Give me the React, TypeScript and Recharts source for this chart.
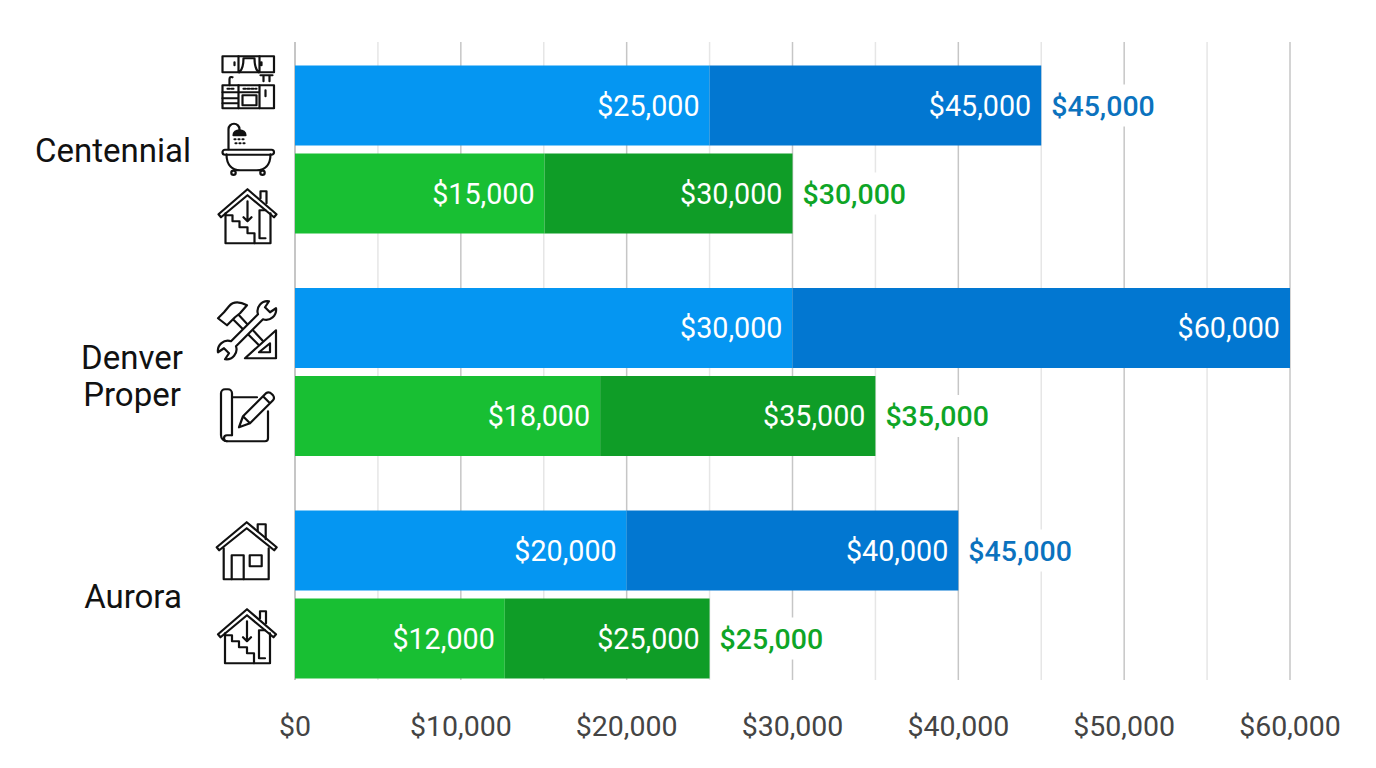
import React from "react";
import { BarChart, Bar, XAxis, YAxis, CartesianGrid, LabelList } from "recharts";

const categories = ["Centennial", "Denver Proper", "Aurora"];
const blueBase = [25000, 30000, 20000];
const blueBaseLabels = [25000, 30000, 20000];
const blueTotal = [45000, 60000, 40000];
const blueTotalLabels = [45000, 60000, 40000];
const blueOutside = [45000, null, 45000];
const greenBase = [15050, 18400, 12650];
const greenBaseLabels = [15000, 18000, 12000];
const greenTotal = [30000, 35000, 25000];
const greenTotalLabels = [30000, 35000, 25000];
const greenOutside = [30000, 35000, 25000];
const axisTicks = [0, 10000, 20000, 30000, 40000, 50000, 60000];
const gridTicks = [0, 5000, 10000, 15000, 20000, 25000, 30000, 35000, 40000, 45000, 50000, 55000, 60000];

const data = categories.map((name, i) => ({
  name,
  blueBase: blueBase[i],
  blueRest: blueTotal[i] - blueBase[i],
  blueBaseLabel: blueBaseLabels[i],
  blueTotalLabel: blueTotalLabels[i],
  blueOutside: blueOutside[i],
  greenBase: greenBase[i],
  greenRest: greenTotal[i] - greenBase[i],
  greenBaseLabel: greenBaseLabels[i],
  greenTotalLabel: greenTotalLabels[i],
  greenOutside: greenOutside[i],
}));

const money = (v: number) => "$" + Number(v).toLocaleString("en-US");

const iconStroke = { fill: "none", stroke: "#111", strokeWidth: 2.2, strokeLinejoin: "round" as const, strokeLinecap: "round" as const };

const KitchenIcon = () => (
  <g {...iconStroke}>
    <rect x={-26} y={-26} width={51.5} height={16} />
    <path d="M-10,-26V-10M11,-26V-10M-9,-10Q-5,-14 -5,-24H6Q6,-14 10,-10M-14,-20V-17M13,-20V-17" />
    <rect x={-26} y={3} width={51.5} height={23} />
    <path d="M-10,3V26M11,3V26M-26,10H11M-26,16H-10M-26,21H-10M17,8V14" />
    <rect x={-6} y={13} width={14} height={10} />
    <path d="M-19,3V-3Q-19,-6 -16,-5M12,-7H24M15,-7V-1M21,-7V-1" />
    <path d="M-21,6.5H-15M-5,6.5H8" strokeDasharray="2 2" />
  </g>
);

const BathIcon = () => (
  <g {...iconStroke}>
    <rect x={-26} y={0.5} width={51.5} height={5} rx={2.5} />
    <path d="M-22,5C-22,16 -16,21 -8,21H8C16,21 22,16 22,5" />
    <circle cx={-15} cy={23.5} r={2.2} />
    <circle cx={14} cy={23.5} r={2.2} />
    <path d="M-20,0V-20A5.5,5.5 0 0 1 -9,-20V-18" />
    <path d="M-15,-14A6,5 0 0 1 -3,-14Z" fill="#111" />
    <path d="M-14,-10H-3M-13,-6H-4" strokeDasharray="1 3" />
  </g>
);

const BasementIcon = () => (
  <g {...iconStroke}>
    <path d="M-29,-2L0,-27L29,-2L26.5,1L0,-21L-26.5,1Z" />
    <path d="M13,-18V-25H19V-13" />
    <path d="M-22,-3V27H23V-3" />
    <path d="M-22,-1H-15V5H-8V11H0V17H7V27" />
    <path d="M0,-15V5M-4,1L0,5L4,1M18,-6H12V22H18" />
  </g>
);

const HouseIcon = () => (
  <g {...iconStroke}>
    <path d="M-30,-3L0,-28L30,-3L27.5,0L0,-22L-27.5,0Z" />
    <path d="M11,-19V-26H19V-11" />
    <path d="M-23,-2V29H22V-2" />
    <path d="M-15,29V5H-3V29" />
    <rect x={3} y={5} width={12} height={11} />
  </g>
);

const ToolsIcon = () => (
  <g {...iconStroke}>
    <path d="M-13,-10L15,18L19,14L-8,-15" />
    <path d="M-29,-12L-20,-5L-12,-13L-7,-17L0,-25Q-12,-31 -18,-24L-23,-18Z" fill="#fff" />
    <path d="M29,0L-2,28H29Z" fill="#fff" />
    <path d="M23,13L12,22H23Z" />
    <path d="M11,-16A10,10 0 0 1 22,-29L18,-23L23,-18L29,-22A10,10 0 0 1 16,-11L-11,16A10,10 0 0 1 -22,29L-18,23L-23,18L-29,22A10,10 0 0 1 -16,11Z" fill="#fff" />
  </g>
);

const PlanIcon = () => (
  <g {...iconStroke}>
    <path d="M-15,20V-22A4,4 0 0 0 -19,-26H-22A4,4 0 0 0 -26,-22V20A6,6 0 0 0 -20,26H18A3,3 0 0 0 21,23V-4" />
    <path d="M-15,20H-20A3,3 0 0 0 -20,26M-15,-18H10" />
    <path d="M-8,12L-4,1L19,-22Q22,-24 25,-21L26,-20Q28,-17 26,-15L3,8ZM-4,1L3,8M16,-19L23,-12" />
  </g>
);

const categoryLayout = [
  { cx: 113, dy: 1, lines: ["Centennial"], icons: [{ I: KitchenIcon, x: 248.5, y: -67.5 }, { I: BathIcon, x: 248.5, y: -0.5 }, { I: BasementIcon, x: 247.5, y: 66.5 }] },
  { cx: 132, dy: 4.5, lines: ["Denver", "Proper"], icons: [{ I: ToolsIcon, x: 247, y: -42 }, { I: PlanIcon, x: 247, y: 43 }] },
  { cx: 133, dy: 2.5, lines: ["Aurora"], icons: [{ I: HouseIcon, x: 246.7, y: -44.5 }, { I: BasementIcon, x: 247, y: 41.5 }] },
];

const CategoryTick = (props: any) => {
  const { y, index } = props;
  const l = categoryLayout[index];
  if (!l) return null;
  const lh = 37;
  const start = y + l.dy - ((l.lines.length - 1) * lh) / 2;
  return (
    <g>
      {l.lines.map((t: string, i: number) => (
        <text key={t} x={l.cx} y={start + i * lh} dy={11} textAnchor="middle" fontSize={33} fill="#111">
          {t}
        </text>
      ))}
      {l.icons.map((ic: any, i: number) => (
        <g key={i} transform={`translate(${ic.x},${y + ic.y})`}>
          <ic.I />
        </g>
      ))}
    </g>
  );
};

const outsideLabel = (color: string) => (props: any) => {
  const { x, y, width, height, value } = props;
  if (value == null) return null;
  const ex = x + width;
  const cy = y + height / 2;
  return (
    <g>
      <rect x={ex + 5} y={cy - 21} width={115} height={42} fill="#fff" />
      <text x={ex + 10} y={cy} dy={10} fontSize={28.5} fontWeight={500} fill={color}>
        {money(value)}
      </text>
    </g>
  );
};

const GridLine = (props: any) => {
  const { x1, x2, y1, y2, index } = props;
  return (
    <line x1={x1} x2={x2} y1={y1 + 3.5} y2={y2 - 26} stroke={index % 2 === 0 ? "#c6c6c6" : "#e6e6e6"} strokeWidth={index === 0 ? 2 : 1.5} />
  );
};

const insideLabel = { fill: "#fff", fontSize: 28.7, position: "insideRight" as const, offset: 10, formatter: money };

export default function App() {
  return (
    <div style={{ position: "absolute", left: 0, top: 0, width: 1376, height: 768, background: "#fff", fontFamily: "Roboto" }}>
      <BarChart
        width={1376}
        height={768}
        data={data}
        layout="vertical"
        margin={{ top: 38.5, right: 86, bottom: 0, left: 0 }}
        barSize={80}
        barGap={8}
        barCategoryGap={0}
      >
        <CartesianGrid horizontal={false} vertical={GridLine as any} verticalValues={gridTicks} />
        <XAxis
          type="number"
          domain={[0, 60000]}
          ticks={axisTicks}
          interval={0}
          tickFormatter={money}
          axisLine={false}
          tickLine={false}
          tickMargin={4}
          height={62}
          tick={{ fontSize: 28.5, fill: "#444" }}
        />
        <YAxis type="category" dataKey="name" width={295} axisLine={false} tickLine={false} tick={CategoryTick as any} interval={0} />
        <Bar dataKey="blueBase" stackId="blue" fill="#0596F2" isAnimationActive={false}>
          <LabelList dataKey="blueBaseLabel" {...insideLabel} />
        </Bar>
        <Bar dataKey="blueRest" stackId="blue" fill="#0277D1" isAnimationActive={false}>
          <LabelList dataKey="blueTotalLabel" {...insideLabel} />
          <LabelList dataKey="blueOutside" content={outsideLabel("#0B72BE") as any} />
        </Bar>
        <Bar dataKey="greenBase" stackId="green" fill="#18BF33" isAnimationActive={false}>
          <LabelList dataKey="greenBaseLabel" {...insideLabel} />
        </Bar>
        <Bar dataKey="greenRest" stackId="green" fill="#0F9D27" isAnimationActive={false}>
          <LabelList dataKey="greenTotalLabel" {...insideLabel} />
          <LabelList dataKey="greenOutside" content={outsideLabel("#0EA526") as any} />
        </Bar>
      </BarChart>
    </div>
  );
}
